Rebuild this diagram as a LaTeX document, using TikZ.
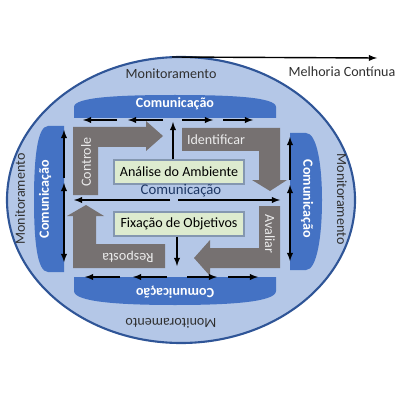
\documentclass[tikz,border=0pt]{standalone}
\usepackage{fontspec}
\setmainfont{Carlito}
\usepackage{tikz}
\usetikzlibrary{arrows,calc}
\definecolor{fundo}{HTML}{B4C7E7}
\definecolor{borda}{HTML}{2F5597}
\definecolor{azulfaixa}{HTML}{4472C4}
\definecolor{cinza}{HTML}{767171}
\definecolor{verde}{HTML}{DDEBCF}
\definecolor{bordaverde}{HTML}{8497B0}
\definecolor{textoazul}{HTML}{1F3864}
\definecolor{textocinza}{HTML}{303030}

\begin{document}
\begin{tikzpicture}[x=0.025cm,y=-0.025cm,
  banda/.style={fill=azulfaixa,draw=none},
  blococinza/.style={fill=cinza,draw=none},
  caixa/.style={fill=verde,draw=bordaverde,line width=0.8pt,minimum width=3.25cm,minimum height=0.6cm},
  seta/.style={-latex,line width=1pt,black},
  rotulo/.style={font=\fontsize{10}{12}\selectfont,text=textocinza},
  rotulobanda/.style={font=\fontsize{10}{12}\selectfont\bfseries,text=white},
  rotulocinza/.style={font=\fontsize{10}{12}\selectfont,text=white!92!black}]
\useasboundingbox (0,0) rectangle (400,400);

% elipse externa
\draw[fill=fundo,draw=borda,line width=1.5pt] (181,200) ellipse [x radius=174,y radius=143];
\draw[seta] (172,57) -- (377,58);
\node[rotulo] (melhoria) at (342,72) {Melhoria Contínua};

% faixas de comunicacao
\path[banda] (74,118) -- (74,107) .. controls (74,97) and (120,95) .. (175,95)
  .. controls (230,95) and (276,97) .. (276,107) -- (276,118) -- cycle;
\path[banda] (74,277) -- (74,291) .. controls (74,302) and (120,305) .. (175,305)
  .. controls (230,305) and (276,302) .. (276,291) -- (276,277) -- cycle;
\path[banda] (64,126) -- (48,126) .. controls (37,126) and (34,160) .. (34,200)
  .. controls (34,240) and (37,272) .. (48,272) -- (64,272) -- cycle;
\path[banda] (290,133) -- (306,133) .. controls (317,133) and (322,165) .. (322,200)
  .. controls (322,236) and (317,270) .. (306,270) -- (290,270) -- cycle;

% setas cinzas
\path[blococinza] (73,195) -- (73,127) -- (146,127) -- (146,121) -- (163,136)
  -- (146,151) -- (146,147) -- (98,147) -- (98,195) -- cycle;
\path[blococinza] (182,128) -- (280,128) -- (280,180) -- (287,180) -- (270,191)
  -- (252,180) -- (259,180) -- (259,151) -- (182,151) -- cycle;
\path[blococinza] (259,206) -- (280,206) -- (280,268) -- (210,268) -- (210,276)
  -- (194,258) -- (210,240) -- (210,248) -- (259,248) -- cycle;
\path[blococinza] (73,268) -- (73,216) -- (67,216) -- (86,205) -- (104,216)
  -- (96,216) -- (96,244) -- (165,244) -- (165,268) -- cycle;

% caixas verdes
\node[caixa] (analise) at (179,172) {\fontsize{10}{12}\selectfont Análise do Ambiente};
\node[caixa] (fixacao) at (179,224) {\fontsize{10}{12}\selectfont Fixação de Objetivos};

% setas pretas
\draw[seta] (117,120) -- (83,120);
\draw[seta] (163,120) -- (128,120);
\draw[seta] (182,120) -- (213,120);
\draw[seta] (223,120) -- (253,120);
\draw[seta] (120,277) -- (85,277);
\draw[seta] (167,277) -- (133,277);
\draw[seta] (187,277) -- (217,277);
\draw[seta] (228,277) -- (258,277);
\draw[seta] (64,178) -- (64,130);
\draw[seta] (64,214) -- (64,183);
\draw[seta] (64,214) -- (64,262);
\draw[seta] (290,180) -- (290,137);
\draw[seta] (290,214) -- (290,185);
\draw[seta] (290,214) -- (290,261);
\draw[seta] (170,200) -- (74,200);
\draw[seta] (178,200) -- (280,200);
\draw[seta] (analise.north -| 173,0) -- (173,122);
\draw[seta] (fixacao.south -| 177,0) -- (177,266);

% textos
\node[rotulo] (montopo) at (171,74) {Monitoramento};
\node[rotulo,rotate=180] (monbase) at (171,323) {Monitoramento};
\node[rotulo,rotate=90] (monesq) at (20,199) {Monitoramento};
\node[rotulo,rotate=-90] (mondir) at (342,199) {Monitoramento};
\node[rotulobanda] (comtopo) at (175,104) {Comunicação};
\node[rotulobanda,rotate=180] (combase) at (175,292) {Comunicação};
\node[rotulobanda,rotate=90] (comesq) at (45,199) {Comunicação};
\node[rotulobanda,rotate=-90] (comdir) at (307,199) {Comunicação};
\node[rotulo,text=textoazul] (commeio) at (181,191) {\fontsize{10.5}{12}\selectfont Comunicação};
\node[rotulocinza,rotate=90] (controle) at (86,162) {Controle};
\node[rotulocinza] (identificar) at (216,140) {Identificar};
\node[rotulocinza,rotate=-90] (avaliar) at (270,234) {Avaliar};
\node[rotulocinza,rotate=180] (resposta) at (128,257) {Resposta};
\end{tikzpicture}
\end{document}
